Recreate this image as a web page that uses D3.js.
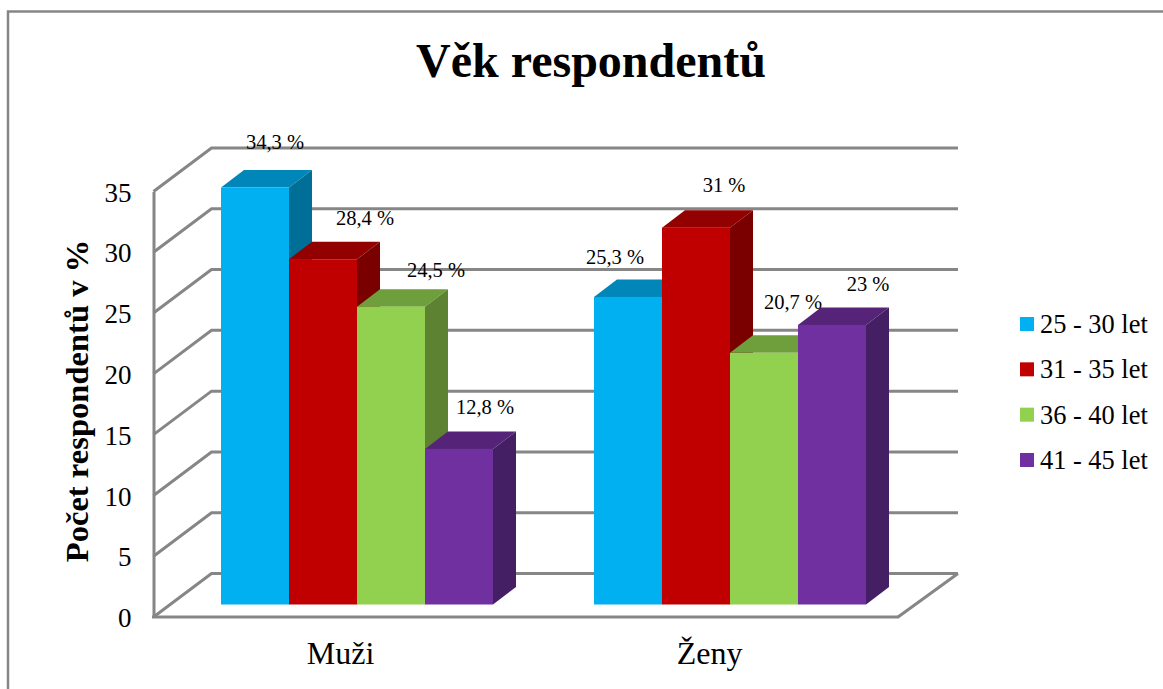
<!DOCTYPE html>
<html><head><meta charset="utf-8">
<script src="https://cdn.jsdelivr.net/npm/d3@7"></script>
<style>html,body{margin:0;padding:0;background:#fff;overflow:hidden}svg{display:block}text{font-family:"Liberation Serif",serif;fill:#000}</style>
</head><body><svg id="c" width="1163" height="689"></svg>
<script>
const categories = ["Muži", "Ženy"];
const seriesNames = ["25 - 30 let", "31 - 35 let", "36 - 40 let", "41 - 45 let"];
const muzi = [34.3, 28.4, 24.5, 12.8];
const zeny = [25.3, 31, 20.7, 23];
const labelsMuzi = ["34,3 %", "28,4 %", "24,5 %", "12,8 %"];
const labelsZeny = ["25,3 %", "31 %", "20,7 %", "23 %"];
const yTicks = [0, 5, 10, 15, 20, 25, 30, 35];
const frontColors = ["#00b0f0", "#c00000", "#92d050", "#7030a0"];
const topColors = ["#0086b8", "#930000", "#6f9e3d", "#552478"];
const sideColors = ["#006f98", "#7a0000", "#5d8232", "#451f64"];
// label nudges relative to the centre of each bar's top
const nudgeMuzi = [[20, -43], [42, -39], [45, -34], [26, -40]];
const nudgeZeny = [[-13, -38], [28, -40], [29, -49], [36, -39]];

const svg = d3.select("#c");
const gridColor = "#868686";
const depthX = 58, depthY = 43.5;      // wall depth
const barDX = 23, barDY = 17.5;        // bar depth
const y = d3.scaleLinear().domain([0, 35]).range([617, 191.5]);
const barW = 68;
const groupX = d3.scalePoint().domain(categories).range([357, 730]);
const x1 = d3.scaleBand().domain(seriesNames).range([-2 * barW, 2 * barW]);
const barBase = 12.5;

// frame
svg.append("path").attr("d", d3.line()([[1163, 11.5], [8, 11.5], [8, 689]]))
  .attr("fill", "none").attr("stroke", gridColor).attr("stroke-width", 2.5);

// gridlines and side wall
const grid = svg.append("g").attr("fill", "none").attr("stroke", gridColor).attr("stroke-width", 3);
yTicks.forEach(t => {
  grid.append("path").attr("d", d3.line()([[153.5, y(t)], [153.5 + depthX, y(t) - depthY], [958, y(t) - depthY]]));
});
grid.append("path").attr("d", d3.line()([[958, y(0) - depthY], [898, y(0)]]));

// axes
const yAxis = d3.axisLeft(y).tickValues(yTicks).tickSize(0).tickPadding(22);
const gy = svg.append("g").attr("transform", "translate(153.5,1)").call(yAxis);
gy.select(".domain").attr("transform", "translate(0,-1)").attr("stroke", gridColor).attr("stroke-width", 3);
gy.selectAll("text").attr("font-size", 27).attr("font-family", "Liberation Serif").attr("fill", "#000").attr("dy", "0.32em");
const xAxisScale = d3.scalePoint().domain(categories).range([340, 709]);
const gx = svg.append("g").attr("transform", `translate(0,${y(0)})`)
  .call(d3.axisBottom(xAxisScale).tickSize(0).tickPadding(24));
gx.select(".domain").remove();
gx.selectAll("text").attr("font-size", 32).attr("font-family", "Liberation Serif").attr("fill", "#000");
svg.append("line").attr("x1", 152).attr("x2", 899).attr("y1", y(0)).attr("y2", y(0))
  .attr("stroke", gridColor).attr("stroke-width", 3);

// bars
const rows = [muzi, zeny];
const labelRows = [labelsMuzi, labelsZeny];
const nudges = [nudgeMuzi, nudgeZeny];
const barsG = svg.append("g");
const poly = pts => d3.line()(pts) + "Z";
categories.forEach((c, ci) => {
  seriesNames.forEach((s, si) => {
    const v = rows[ci][si];
    const xl = groupX(c) + x1(s), xr = xl + barW;
    const yt = y(v) - barBase, yb = y(0) - barBase;
    barsG.append("path").attr("fill", topColors[si])
      .attr("d", poly([[xl, yt], [xl + barDX, yt - barDY], [xr + barDX, yt - barDY], [xr, yt]]));
    barsG.append("path").attr("fill", sideColors[si])
      .attr("d", poly([[xr, yt], [xr + barDX, yt - barDY], [xr + barDX, yb - barDY], [xr, yb]]));
    barsG.append("rect").attr("x", xl).attr("y", yt).attr("width", barW).attr("height", yb - yt).attr("fill", frontColors[si]);
  });
});
categories.forEach((c, ci) => {
  seriesNames.forEach((s, si) => {
    const v = rows[ci][si];
    const xc = groupX(c) + x1(s) + barW / 2;
    const n = nudges[ci][si];
    svg.append("text").attr("x", xc + n[0]).attr("y", y(v) - barBase + n[1])
      .attr("text-anchor", "middle").attr("dominant-baseline", "middle")
      .attr("font-size", 20.5).text(labelRows[ci][si]);
  });
});

// titles
svg.append("text").attr("x", 591).attr("y", 77).attr("text-anchor", "middle")
  .attr("font-size", 48).attr("font-weight", "bold").text("Věk respondentů");
svg.append("text").attr("transform", "translate(88,401) rotate(-90)").attr("text-anchor", "middle")
  .attr("font-size", 32.6).attr("font-weight", "bold").text("Počet respondentů v %");

// legend
const ly = d3.scalePoint().domain(seriesNames).range([324, 460]);
seriesNames.forEach((s, i) => {
  svg.append("rect").attr("x", 1020).attr("y", ly(s) - 7).attr("width", 14).attr("height", 14).attr("fill", frontColors[i]);
  svg.append("text").attr("x", 1040).attr("y", ly(s) + 9).attr("font-size", 26.4).text(s);
});
</script></body></html>
